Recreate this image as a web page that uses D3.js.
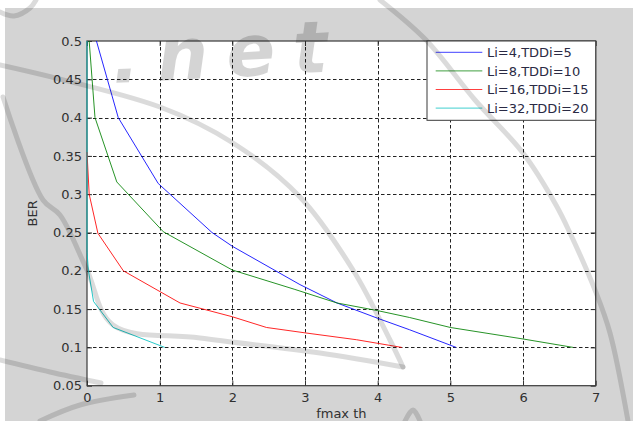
<!DOCTYPE html>
<html>
<head>
<meta charset="utf-8">
<script src="https://cdn.jsdelivr.net/npm/d3@7"></script>
<style>
  body { margin: 0; background: #ffffff; }
  svg { display: block; }
  text { font-family: "DejaVu Sans", Verdana, sans-serif; }
</style>
</head>
<body>
<svg id="chart" width="633" height="421"></svg>
<script>
// Axis ticks
const xTicks = [0, 1, 2, 3, 4, 5, 6, 7];
const yTicks = [0.05, 0.1, 0.15, 0.2, 0.25, 0.3, 0.35, 0.4, 0.45, 0.5];

// Series labels and colours
const seriesNames = ["Li=4,TDDi=5", "Li=8,TDDi=10", "Li=16,TDDi=15", "Li=32,TDDi=20"];
const seriesColors = ["#0000ff", "#008000", "#ff0000", "#00bfbf"];

// BER against fmax th, one array per configuration: [fmax th, BER]
const li4 = [[0.13, 0.5], [0.43, 0.4], [0.98, 0.314], [1.72, 0.25], [2.0, 0.232],
             [2.93, 0.182], [3.44, 0.158], [4.0, 0.138], [4.44, 0.123], [5.08, 0.1]];
const li8 = [[0.03, 0.5], [0.11, 0.4], [0.41, 0.316], [1.05, 0.251], [2.0, 0.201],
             [2.85, 0.176], [3.44, 0.158], [4.0, 0.148], [4.44, 0.139], [5.0, 0.126],
             [6.0, 0.111], [6.69, 0.1]];
const li16 = [[0.0, 0.355], [0.03, 0.3], [0.15, 0.249], [0.5, 0.2], [1.28, 0.158],
              [2.0, 0.14], [2.47, 0.126], [3.0, 0.119], [3.71, 0.11], [4.33, 0.1]];
const li32 = [[0.0, 0.5], [0.0, 0.225], [0.02, 0.2], [0.09, 0.16], [0.36, 0.126], [1.07, 0.1]];
const seriesData = [li4, li8, li16, li32];

const W = 633, H = 421;
const plot = { left: 87, top: 41, right: 595.7, bottom: 385.7 };
const FS = 13;

const svg = d3.select("#chart");

// Figure panel
svg.append("rect").attr("x", 0).attr("y", 0).attr("width", W).attr("height", H).attr("fill", "#ffffff");
svg.append("rect").attr("x", 5).attr("y", 8).attr("width", W - 5).attr("height", H - 8).attr("fill", "#d4d4d4");

const x = d3.scaleLinear().domain([0, 7]).range([plot.left, plot.right]);
const y = d3.scaleLinear().domain([0.05, 0.5]).range([plot.bottom, plot.top]);
const pw = plot.right - plot.left, ph = plot.bottom - plot.top;

svg.append("rect").attr("x", plot.left).attr("y", plot.top)
  .attr("width", pw).attr("height", ph).attr("fill", "#ffffff");

// Dashed grid
const grid = svg.append("g").attr("stroke", "#222").attr("stroke-width", 1)
  .attr("stroke-dasharray", "3.5,2.5").attr("fill", "none");
grid.selectAll("line.gx").data(xTicks.slice(1, -1)).join("line")
  .attr("x1", d => Math.round(x(d)) + 0.5).attr("x2", d => Math.round(x(d)) + 0.5)
  .attr("y1", plot.top).attr("y2", plot.bottom);
grid.selectAll("line.gy").data(yTicks.slice(1, -1)).join("line")
  .attr("y1", d => Math.round(y(d)) + 0.5).attr("y2", d => Math.round(y(d)) + 0.5)
  .attr("x1", plot.left).attr("x2", plot.right);

// Axes (ticks inward, box around the plot)
const tickStyle = g => {
  g.select(".domain").remove();
  g.selectAll(".tick line").attr("stroke", "#333");
  g.selectAll(".tick text").attr("fill", "#303030").attr("font-size", FS)
    .attr("font-family", "DejaVu Sans, Verdana, sans-serif");
};
svg.append("g").attr("transform", `translate(0,${plot.bottom})`)
  .call(d3.axisBottom(x).tickValues(xTicks).tickFormat(d3.format("d")).tickSizeInner(-5).tickSizeOuter(0).tickPadding(7.5))
  .call(tickStyle);
svg.append("g").attr("transform", `translate(${plot.left},0)`)
  .call(d3.axisLeft(y).tickValues(yTicks).tickFormat(d => String(+d.toFixed(2))).tickSizeInner(-5).tickSizeOuter(0).tickPadding(5))
  .call(tickStyle);
svg.append("g").attr("transform", `translate(0,${plot.top})`)
  .call(d3.axisTop(x).tickValues(xTicks).tickFormat("").tickSizeInner(-5).tickSizeOuter(0))
  .call(tickStyle);
svg.append("g").attr("transform", `translate(${plot.right},0)`)
  .call(d3.axisRight(y).tickValues(yTicks).tickFormat("").tickSizeInner(-5).tickSizeOuter(0))
  .call(tickStyle);

svg.append("rect").attr("x", plot.left).attr("y", plot.top)
  .attr("width", pw).attr("height", ph)
  .attr("fill", "none").attr("stroke", "#3a3a3a").attr("stroke-width", 1.2);

// Curves, drawn over the axis box
const line = d3.line().x(d => x(d[0])).y(d => y(d[1]));
svg.append("g").selectAll("path").data(seriesData).join("path")
  .attr("d", line)
  .attr("fill", "none")
  .attr("stroke", (d, i) => seriesColors[i])
  .attr("stroke-width", 1)
  .attr("stroke-opacity", 0.85);

// Axis titles
svg.append("text").attr("x", (plot.left + plot.right) / 2).attr("y", 418)
  .attr("text-anchor", "middle").attr("font-size", FS).attr("fill", "#303030").text("fmax th");
svg.append("text").attr("transform", `translate(37,${(plot.top + plot.bottom) / 2}) rotate(-90)`)
  .attr("text-anchor", "middle").attr("font-size", FS).attr("fill", "#303030").text("BER");

// Legend
const lg = { x: 427, y: plot.top, w: plot.right - 427, h: 79.3 };
const legend = svg.append("g");
legend.append("rect").attr("x", lg.x).attr("y", lg.y).attr("width", lg.w).attr("height", lg.h)
  .attr("fill", "#ffffff").attr("stroke", "#3a3a3a").attr("stroke-width", 1);
const rows = legend.selectAll("g.row").data(seriesNames).join("g")
  .attr("transform", (d, i) => `translate(0,${52.3 + i * 18.6})`);
rows.append("line").attr("x1", 435.7).attr("x2", 482.3).attr("y1", 0).attr("y2", 0)
  .attr("stroke", (d, i) => seriesColors[i]).attr("stroke-width", 1).attr("stroke-opacity", 0.75);
rows.append("text").attr("x", 487).attr("y", 4.7).attr("font-size", FS)
  .attr("fill", "#2a2a44").text(d => d);

// Faint watermark stamp drawn over the figure
const wm = svg.append("g").attr("pointer-events", "none");
wm.append("text").attr("x", 112).attr("y", 78).attr("letter-spacing", 18)
  .attr("font-size", 72).attr("font-weight", "bold").attr("font-style", "italic")
  .attr("fill", "#000").attr("fill-opacity", 0.17)
  .attr("transform", "rotate(-3,210,60)").text(".net");

const curve = d3.line().curve(d3.curveCatmullRom);
const wmPaths = [
  [[0, 12], [14, 16], [30, 8], [36, 0]],
  [[0, 65], [160, 107], [233, 143], [300, 197], [353, 270], [390, 340], [403, 367]],
  [[3, 97], [43, 200], [60, 215], [87, 270], [113, 325], [200, 338], [320, 353], [403, 367]],
  [[380, 0], [426, 40], [475, 100], [523, 153], [556, 205], [570, 233], [595, 290], [610, 333], [628, 421]],
  [[0, 360], [50, 372], [101, 383]],
  [[40, 421], [80, 405], [134, 395]],
  [[405, 421], [413, 410], [420, 421]]
];
wm.selectAll("path").data(wmPaths).join("path")
  .attr("d", curve)
  .attr("fill", "none").attr("stroke", "#000").attr("stroke-opacity", 0.14)
  .attr("stroke-width", 5).attr("stroke-linecap", "round");
</script>
</body>
</html>
